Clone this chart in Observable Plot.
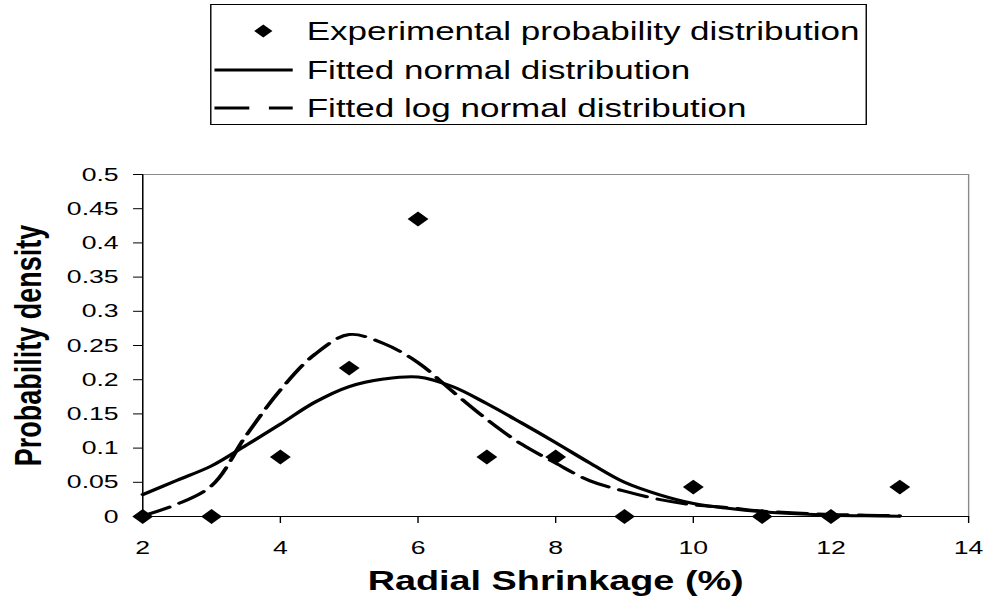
<!DOCTYPE html>
<html>
<head>
<meta charset="utf-8">
<script src="https://cdn.jsdelivr.net/npm/d3@7"></script>
<script src="https://cdn.jsdelivr.net/npm/@observablehq/plot@0.6"></script>
<style>
  html, body { margin: 0; padding: 0; background: #fff; }
  body { width: 986px; height: 603px; overflow: hidden; font-family: "Liberation Sans", Arial, sans-serif; }
  #legendWrap { position: relative; width: 986px; height: 135px; overflow: hidden; }
  #legendInner { position: absolute; left: 0; top: 0; width: 704px; height: 135px; transform-origin: 0 0; }
  #legendBox { position: absolute; left: 150px; top: 4px; width: 469px; height: 121px; border: 1px solid #000; box-sizing: border-box; background: #fff; }
  .row { position: absolute; left: 0; height: 30px; width: 100%; }
  .row svg { position: absolute; left: 2px; top: 5px; }
  .row span { position: absolute; left: 68px; top: 0; line-height: 30px; font-size: 25px; color: #000; white-space: nowrap; }
  #chart svg { display: block; }
</style>
</head>
<body>
<div id="legendWrap"><div id="legendInner"><div id="legendBox"></div></div></div>
<div id="chart"></div>
<script>
// ---- data ----
const shrinkage = [2, 3, 4, 5, 6, 7, 8, 9, 10, 11, 12, 13];
const experimental = [0, 0, 0.087, 0.217, 0.435, 0.087, 0.087, 0, 0.043, 0, 0, 0.043];

const fitX = [2, 2.5, 3, 3.5, 4, 4.5, 5, 5.5, 6, 6.5, 7, 7.5, 8, 8.5, 9, 9.5, 10, 10.5, 11, 11.5, 12, 12.5, 13];
const normalFit = [0.032, 0.053, 0.074, 0.104, 0.135, 0.167, 0.19, 0.201, 0.204, 0.19, 0.165, 0.137, 0.108, 0.078, 0.05, 0.032, 0.019, 0.012, 0.007, 0.004, 0.002, 0.001, 0.0005];
const logNormalFit = [0.001, 0.018, 0.045, 0.118, 0.185, 0.237, 0.266, 0.253, 0.225, 0.183, 0.142, 0.106, 0.078, 0.052, 0.037, 0.025, 0.017, 0.013, 0.008, 0.005, 0.003, 0.002, 0.001];

const xTicks = [2, 4, 6, 8, 10, 12, 14];
const yTicks = [0, 0.05, 0.1, 0.15, 0.2, 0.25, 0.3, 0.35, 0.4, 0.45, 0.5];
const seriesNames = ["Experimental probability distribution", "Fitted normal distribution", "Fitted log normal distribution"];
const xTitle = "Radial Shrinkage (%)";
const yTitle = "Probability density";

// ---- tables ----
const points = shrinkage.map((x, i) => ({x, y: experimental[i]}));
const normal = fitX.map((x, i) => ({x, y: normalFit[i]}));
const lognormal = fitX.map((x, i) => ({x, y: logNormalFit[i]}));

// The reference is horizontally stretched; draw narrow and stretch.
const W = 704, H = 468, S = 986 / W;
const font = "Liberation Sans, Arial, sans-serif";

const plot = Plot.plot({
  width: W,
  height: H,
  marginLeft: 101.4,
  marginRight: 12.9,
  marginTop: 39,
  marginBottom: 87,
  x: {domain: [2, 14]},
  y: {domain: [0, 0.5]},
  style: {fontFamily: font, background: "#fff", color: "#000", overflow: "visible"},
  marks: [
    Plot.frame({stroke: "#8a8a8a", strokeWidth: 1}),
    Plot.axisY({ticks: yTicks, tickSize: 6.4, tickPadding: 10.8, fontSize: 19, label: null,
      tickFormat: d => String(+d.toFixed(2)), stroke: "#000", strokeOpacity: 1}),
    Plot.axisX({ticks: xTicks, tickSize: 7, tickPadding: 17, fontSize: 19, label: null,
      tickFormat: d => String(d), stroke: "#000", strokeOpacity: 1}),
    Plot.ruleX([2], {stroke: "#000", strokeWidth: 1}),
    Plot.ruleY([0], {stroke: "#000", strokeWidth: 1}),
    Plot.line(normal, {x: "x", y: "y", stroke: "#000", strokeWidth: 3, curve: "catmull-rom"}),
    Plot.line(lognormal, {x: "x", y: "y", stroke: "#000", strokeWidth: 3, curve: "catmull-rom", strokeDasharray: "21,8"}),
    Plot.dot(points, {x: "x", y: "y", symbol: "diamond2", r: 6.7, fill: "#000", stroke: "none"}),
    Plot.text([xTitle], {frameAnchor: "bottom", dy: 65, text: d => d, fontSize: 27, fontWeight: "bold", fill: "#000", lineAnchor: "middle", textAnchor: "middle"}),
    Plot.text([yTitle], {frameAnchor: "left", dx: -81.4, rotate: -90, text: d => d, fontSize: 27, fontWeight: "bold", fill: "#000", lineAnchor: "middle", textAnchor: "middle"})
  ]
});

plot.setAttribute("width", 986);
plot.setAttribute("height", H);
plot.setAttribute("preserveAspectRatio", "none");
plot.style.width = "986px";
plot.style.height = H + "px";
plot.style.maxWidth = "none";
document.getElementById("chart").appendChild(plot);

// ---- legend ----
document.getElementById("legendInner").style.transform = `scaleX(${S})`;
const box = document.getElementById("legendBox");
const rowCenters = [26, 65, 103];
seriesNames.forEach((name, i) => {
  const row = document.createElement("div");
  row.className = "row";
  row.style.top = (rowCenters[i] - 15) + "px";
  let sym;
  if (i === 0) sym = `<polygon points="35,3.5 41.5,10 35,16.5 28.5,10" fill="#000"/>`;
  else if (i === 1) sym = `<line x1="0" x2="56" y1="10" y2="10" stroke="#000" stroke-width="3"/>`;
  else sym = `<line x1="0" x2="56" y1="10" y2="10" stroke="#000" stroke-width="3" stroke-dasharray="25,14"/>`;
  row.innerHTML = `<svg width="62" height="20" viewBox="0 0 62 20">${sym}</svg><span>${name}</span>`;
  box.appendChild(row);
});
</script>
</body>
</html>
